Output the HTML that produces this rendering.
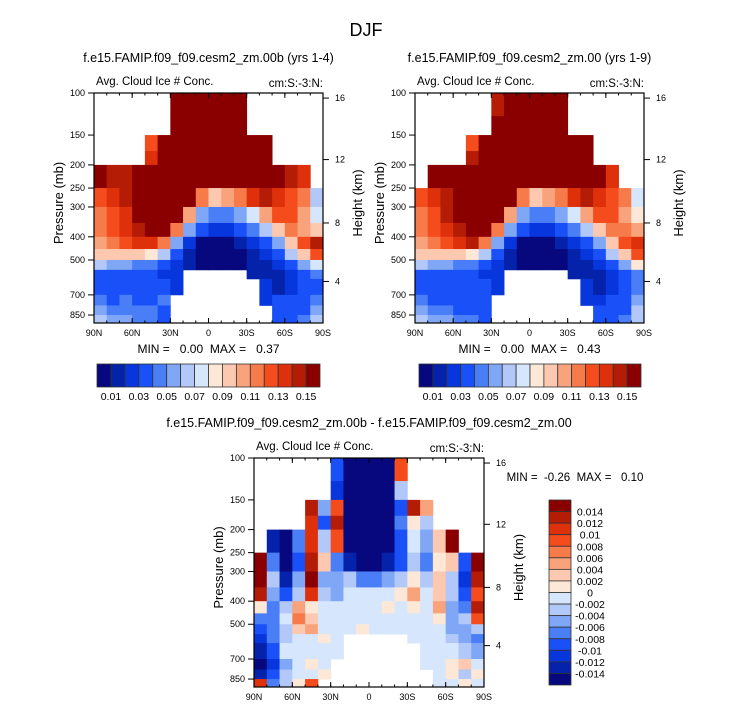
<!DOCTYPE html>
<html><head><meta charset="utf-8"><style>
body{margin:0;background:#fff}
svg{display:block;font-family:"Liberation Sans",sans-serif}
text{white-space:pre}
</style></head><body>
<svg id="fig" width="733" height="712" viewBox="0 0 733 712" xmlns="http://www.w3.org/2000/svg">
<text x="366" y="36" font-size="18" text-anchor="middle">DJF</text>
</svg>
<script>
const pEdges=[100,125,150,175,200,250,300,350,400,450,500,550,600,700,775,850,918];
const latTicks=["90N","60N","30N","0","30S","60S","90S"];
const pTicks=[100,150,200,250,300,400,500,700,850];
const hTicks=[16,12,8,4];
const hTickP=[105,190,350,615];
const meanLevels=["0.01","0.03","0.05","0.07","0.09","0.11","0.13","0.15"];
const diffLevels=["0.014","0.012","0.01","0.008","0.006","0.004","0.002","0","-0.002","-0.004","-0.006","-0.008","-0.01","-0.012","-0.014"];
const palette=["#07087e","#0422aa","#0636dc","#1a50f8","#4a7ef6","#80a6f6","#b2c8f8","#d6e6fc","#fde8d8","#fcc8b0","#f9a37c","#f77a4a","#f44c1c","#de300a","#b41c06","#8a0000"];
const M=-1;
const gridA=[
[M,M,M,M,M,M,15,15,15,15,15,15,M,M,M,M,M,M],
[M,M,M,M,M,M,15,15,15,15,15,15,M,M,M,M,M,M],
[M,M,M,M,12,15,15,15,15,15,15,15,15,15,M,M,M,M],
[M,M,M,M,13,15,15,15,15,15,15,15,15,15,M,M,M,M],
[15,14,14,15,15,15,15,15,15,15,15,15,15,15,15,14,13,M],
[12,13,14,15,15,15,15,15,11,9,10,11,13,14,13,12,11,6],
[11,12,13,15,15,15,15,10,5,4,4,5,7,10,12,12,10,7],
[11,12,13,14,15,15,11,5,3,2,2,3,4,6,9,11,10,9],
[10,11,12,13,13,11,5,2,0,0,0,1,2,3,5,9,12,14],
[9,9,9,9,8,6,3,1,0,0,0,0,1,2,3,6,9,12],
[6,5,5,4,4,3,2,1,0,0,0,0,1,1,2,3,5,7],
[3,3,3,3,3,2,2,M,M,M,M,M,1,1,1,2,3,4],
[3,3,3,3,3,3,2,M,M,M,M,M,M,2,1,2,3,3],
[4,3,4,3,3,4,M,M,M,M,M,M,M,2,3,3,3,4],
[5,4,4,4,4,3,M,M,M,M,M,M,M,M,3,3,3,5],
[6,5,5,4,4,3,M,M,M,M,M,M,M,M,3,3,4,6]];
const gridB=[
[M,M,M,M,M,M,14,15,15,15,15,15,M,M,M,M,M,M],
[M,M,M,M,M,M,15,15,15,15,15,15,M,M,M,M,M,M],
[M,M,M,M,12,15,15,15,15,15,15,15,15,15,M,M,M,M],
[M,M,M,M,14,15,15,15,15,15,15,15,15,15,M,M,M,M],
[M,15,15,15,15,15,15,15,15,15,15,15,15,15,15,13,M,M],
[12,13,14,15,15,15,15,15,11,9,10,11,13,14,13,12,11,7],
[11,12,14,15,15,15,15,10,5,4,4,5,7,10,12,12,10,8],
[11,12,13,14,15,15,11,5,3,2,2,3,4,6,9,11,11,10],
[10,11,12,13,14,11,5,2,0,0,0,1,2,3,5,9,12,13],
[9,9,9,9,8,6,3,1,0,0,0,0,1,2,3,6,9,12],
[6,5,5,4,4,3,2,1,0,0,0,0,1,1,2,3,5,8],
[3,3,3,3,3,2,2,M,M,M,M,M,1,1,1,2,3,4],
[3,3,3,3,3,3,2,M,M,M,M,M,M,2,1,2,3,4],
[4,3,3,3,3,3,M,M,M,M,M,M,M,2,2,3,3,5],
[5,4,4,3,3,3,M,M,M,M,M,M,M,M,3,3,3,6],
[6,5,5,4,4,3,M,M,M,M,M,M,M,M,3,3,4,6]];
const gridD=[
[M,M,M,M,M,M,3,0,0,0,0,12,M,M,M,M,M,M],
[M,M,M,M,M,M,2,0,0,0,0,6,M,M,M,M,M,M],
[M,M,M,M,14,5,12,0,0,0,0,3,14,10,M,M,M,M],
[M,M,M,M,13,3,14,0,0,0,0,4,8,6,M,M,M,M],
[M,1,0,4,13,6,12,0,0,0,0,3,7,5,9,15,M,M],
[15,4,0,3,14,9,4,1,0,0,1,3,6,4,8,9,3,15],
[15,6,1,5,15,5,5,6,4,4,5,6,8,6,9,6,2,14],
[14,5,3,6,13,6,5,7,7,7,7,8,10,7,9,6,3,12],
[8,4,6,10,8,7,7,7,7,7,8,7,8,7,10,5,4,14],
[4,4,7,11,9,7,7,7,7,7,7,7,7,7,8,5,6,12],
[3,4,6,9,10,7,7,7,8,7,7,7,7,7,7,5,5,6],
[2,4,6,7,7,8,7,M,M,M,M,M,7,7,7,6,5,4],
[1,3,7,7,7,7,7,M,M,M,M,M,M,7,7,7,6,5],
[0,2,5,7,8,7,M,M,M,M,M,M,M,7,7,8,9,7],
[1,3,6,7,7,8,M,M,M,M,M,M,M,M,7,8,6,8],
[13,4,6,8,12,M,M,M,M,M,M,M,M,M,7,7,8,7]];

const NS="http://www.w3.org/2000/svg";
const svg=document.getElementById('fig');
function mk(tag,attrs,parent,txt){const e=document.createElementNS(NS,tag);for(const k in attrs)e.setAttribute(k,attrs[k]);if(txt!==undefined)e.textContent=txt;(parent||svg).appendChild(e);return e;}

function panel(ox,oy,W,H,grid,title,titleName,mm){
  const g=mk('g',{});
  
  
  const pb=pEdges[pEdges.length-1];
  const yOf=p=>oy+Math.log(p/100)/Math.log(pb/100)*H;
  const xOf=lat=>ox+(90-lat)/180*W;
  const nc=grid[0].length;
  grid.forEach((row,r)=>{row.forEach((v,c)=>{
    if(v<0)return;
    const y0=yOf(pEdges[r]),y1=yOf(pEdges[r+1]);
    const x0=xOf(90-c*180/nc),x1=xOf(90-(c+1)*180/nc);
    const cell=mk('rect',{x:x0,y:y0,width:x1-x0+0.4,height:y1-y0+0.4,fill:palette[v]},g);
    
    
  });});
  const fr=mk('rect',{x:ox,y:oy,width:W,height:H,fill:'none',stroke:'#000','stroke-width':1.2},g);
  
  
  const t=mk('text',{x:ox+W/2,y:oy-31,'font-size':12.5,'text-anchor':'middle'},g,title);
  
  
  const s1=mk('text',{x:ox+2,y:oy-8,'font-size':11.5},g,'Avg. Cloud Ice # Conc.');
  
  
  const s2=mk('text',{x:ox+W,y:oy-6,'font-size':11.5,'text-anchor':'end'},g,'cm:S:-3:N:');
  
  
  latTicks.forEach((l,i)=>{
    const x=ox+i*W/6;
    mk('line',{x1:x,y1:oy+H,x2:x,y2:oy+H-5,stroke:'#000'},g);
    mk('line',{x1:x,y1:oy,x2:x,y2:oy+5,stroke:'#000'},g);
    const tl=mk('text',{x:x,y:oy+H+13,'font-size':9,'text-anchor':'middle'},g,l);
    
    
  });
  for(let i=0;i<=18;i++){const x=ox+i*W/18;mk('line',{x1:x,y1:oy+H,x2:x,y2:oy+H-2.5,stroke:'#000'},g);mk('line',{x1:x,y1:oy,x2:x,y2:oy+2.5,stroke:'#000'},g);}
  pTicks.forEach(p=>{
    const y=yOf(p);
    mk('line',{x1:ox,y1:y,x2:ox-6,y2:y,stroke:'#000'},g);
    const tl=mk('text',{x:ox-9,y:y+3,'font-size':9,'text-anchor':'end'},g,String(p));
    
    
  });
  hTicks.forEach((h,i)=>{
    const y=yOf(hTickP[i]);
    mk('line',{x1:ox+W,y1:y,x2:ox+W+6,y2:y,stroke:'#000'},g);
    const tl=mk('text',{x:ox+W+12,y:y+3,'font-size':9},g,String(h));
    
    
  });
  const yl=mk('text',{x:0,y:0,'font-size':13,'text-anchor':'middle',transform:`translate(${ox-31},${oy+H/2-5}) rotate(-90)`},g,'Pressure (mb)');
  
  
  const hl=mk('text',{x:0,y:0,'font-size':13,'text-anchor':'middle',transform:`translate(${ox+W+39},${oy+H/2-5}) rotate(-90)`},g,'Height (km)');
  
  
  if(mm){const m=mk('text',{x:ox+W/2,y:oy+H+30,'font-size':12,'text-anchor':'middle'},g,mm);
    
    }
}
function hbar(x0,x1,y,h){
  const g=mk('g',{});
  
  
  const w=(x1-x0)/16;
  palette.forEach((c,i)=>{const b=mk('rect',{x:x0+i*w,y:y,width:w,height:h,fill:c,stroke:'#333','stroke-width':0.8},g);
    
    });
  meanLevels.forEach((l,i)=>{const t=mk('text',{x:x0+(2*i+1)*w,y:y+h+13,'font-size':10.5,'text-anchor':'middle'},g,l);
    
    });
}
panel(94,93,229,230,gridA,'f.e15.FAMIP.f09_f09.cesm2_zm.00b (yrs 1-4)','panel-test','MIN =   0.00  MAX =   0.37');
panel(415,93,229,230,gridB,'f.e15.FAMIP.f09_f09.cesm2_zm.00 (yrs 1-9)','panel-control','MIN =   0.00  MAX =   0.43');
panel(254,458,230,229,gridD,'f.e15.FAMIP.f09_f09.cesm2_zm.00b - f.e15.FAMIP.f09_f09.cesm2_zm.00','panel-difference',null);
hbar(97,320,364,23);
hbar(419,641,364,23);
const mmD=mk('text',{x:575,y:481,'font-size':11.5,'text-anchor':'middle'},svg,'MIN =  -0.26  MAX =   0.10');


const vb=mk('g',{});


const bh=(685-500)/16;
palette.slice().reverse().forEach((c,i)=>{const b=mk('rect',{x:549,y:500+i*bh,width:22,height:bh,fill:c,stroke:'#333','stroke-width':0.8},vb);
  
  });
diffLevels.forEach((l,i)=>{const t=mk('text',{x:590,y:500+(i+1)*bh+4,'font-size':10.5,'text-anchor':'middle'},vb,l);
  
  });
</script>
</body></html>
